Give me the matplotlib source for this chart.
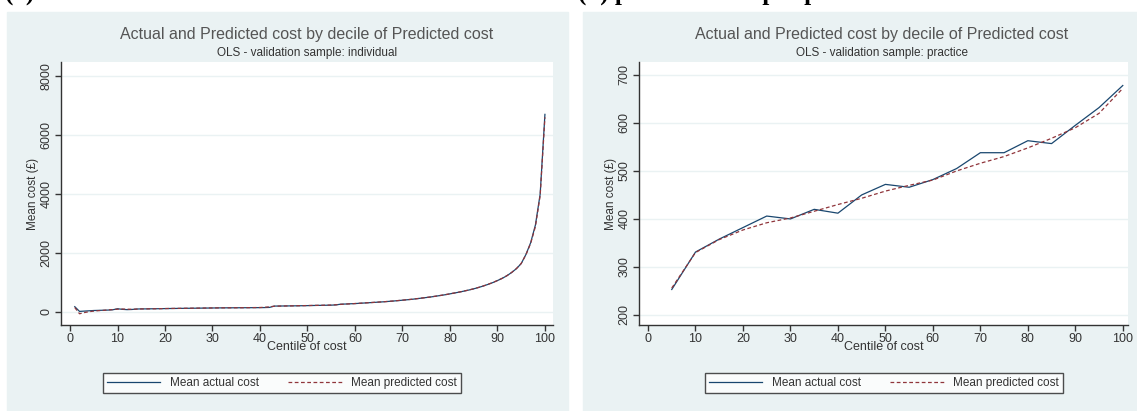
import matplotlib.pyplot as plt
from matplotlib.patches import Rectangle
from matplotlib.lines import Line2D

# panel (a): centiles of cost, individual validation sample
centiles = list(range(1, 101))
actual_ind = [180, 20, 30, 40, 50, 55, 60, 65, 75, 110,
              90, 80, 85, 100, 105, 105, 108, 110, 112, 115,
              118, 120, 122, 124, 126, 128, 130, 132, 134, 136,
              138, 140, 141, 142, 143, 144, 145, 146, 147, 148,
              150, 155, 200, 202, 204, 206, 208, 210, 213, 216,
              220, 223, 226, 229, 232, 240, 265, 270, 278, 285,
              295, 305, 315, 325, 335, 345, 358, 370, 385, 400,
              415, 430, 450, 470, 490, 510, 535, 560, 585, 615,
              645, 675, 710, 745, 785, 830, 880, 935, 995, 1065,
              1140, 1230, 1340, 1470, 1640, 1950, 2350, 2950, 4000, 6700]
pred_ind = [150, -60, -20, 10, 30, 45, 55, 70, 80, 95,
            100, 95, 90, 98, 104, 106, 108, 110, 113, 116,
            119, 121, 123, 125, 127, 129, 131, 133, 135, 137,
            139, 141, 142, 143, 144, 145, 146, 148, 150, 152,
            160, 175, 195, 200, 203, 206, 209, 212, 215, 218,
            222, 225, 228, 231, 235, 245, 258, 268, 277, 286,
            296, 306, 316, 326, 336, 347, 359, 372, 386, 401,
            416, 432, 451, 471, 491, 512, 536, 561, 587, 616,
            646, 677, 711, 747, 787, 832, 881, 937, 997, 1067,
            1142, 1232, 1342, 1472, 1645, 1940, 2330, 2900, 3950, 6600]

# panel (b): practice sample
groups = [5, 10, 15, 20, 25, 30, 35, 40, 45, 50,
          55, 60, 65, 70, 75, 80, 85, 90, 95, 100]
actual_prac = [253, 331, 358, 382, 406, 400, 420, 412, 450, 472,
               466, 482, 505, 538, 538, 563, 557, 595, 632, 678]
pred_prac = [256, 330, 357, 377, 392, 402, 416, 430, 443, 458,
             470, 481, 500, 516, 530, 548, 568, 590, 620, 672]

W, H = 1137, 411
BG = '#eaf2f3'
C_ACT = '#1a476f'
C_PRED = '#90353b'

plt.rcParams['font.family'] = ['Liberation Sans', 'DejaVu Sans']
fig = plt.figure(figsize=(W / 100, H / 100), dpi=100)


def px_box(x0, y0, x1, y1):
    return [x0 / W, 1 - y1 / H, (x1 - x0) / W, (y1 - y0) / H]


# grey-blue panel backgrounds
for x0, x1 in [(7, 568), (583, 1137)]:
    fig.patches.append(Rectangle((x0 / W, 0), (x1 - x0) / W, 1 - 12 / H,
                                 transform=fig.transFigure, color=BG, zorder=-10))

# caption lines, cut off at the top edge
fig.text(5 / W, 1 + 0.5 / H, '(a) individual level', fontsize=18, fontweight='bold',
         family='Liberation Serif', va='baseline', ha='left')
fig.text(578 / W, 1 + 0.5 / H, '(b) practice level per practice', fontsize=18,
         fontweight='bold', family='Liberation Serif', va='baseline', ha='left')

panels = [
    dict(box=(61, 62, 553, 325), x=centiles, a=actual_ind, p=pred_ind,
         xlim=(-1.9, 101.7), ylim=(-441, 8475), yt=[0, 2000, 4000, 6000, 8000],
         sub='OLS - validation sample: individual', cx=307, lx=282),
    dict(box=(639, 62, 1128, 325), x=groups, a=actual_prac, p=pred_prac,
         xlim=(-1.9, 101.1), ylim=(179, 727), yt=[200, 300, 400, 500, 600, 700],
         sub='OLS - validation sample: practice', cx=882, lx=884),
]

for pn in panels:
    ax = fig.add_axes(px_box(*pn['box']))
    ax.set_facecolor('white')
    ax.plot(pn['x'], pn['a'], color=C_ACT, lw=0.9, label='Mean actual cost')
    ax.plot(pn['x'], pn['p'], color=C_PRED, lw=0.9, dashes=(3, 2),
            label='Mean predicted cost')
    ax.set_xlim(*pn['xlim'])
    ax.set_ylim(*pn['ylim'])
    ax.set_xticks(range(0, 101, 10))
    ax.set_yticks(pn['yt'])
    ax.set_yticklabels([str(v) for v in pn['yt']], rotation=90, va='center')
    ax.grid(axis='y', color=BG, lw=1)
    ax.set_axisbelow(True)
    for s in ['top', 'right']:
        ax.spines[s].set_visible(False)
    for s in ['left', 'bottom']:
        ax.spines[s].set_color('#333333')
        ax.spines[s].set_linewidth(1)
    ax.tick_params(length=4, width=1, color='#333333', labelsize=9,
                   labelcolor='#333333', pad=2)
    ax.set_xlabel('Centile of cost', fontsize=9, color='#333333', labelpad=-3)
    ax.set_ylabel('Mean cost (£)', fontsize=8.5, color='#333333', labelpad=1)

    fig.text(pn['cx'] / W, 1 - 34 / H,
             'Actual and Predicted cost by decile of Predicted cost',
             ha='center', va='center', fontsize=11.5, color='#555555')
    fig.text(pn['cx'] / W, 1 - 53 / H, pn['sub'],
             ha='center', va='center', fontsize=8.5, color='#333333')

    handles = [Line2D([], [], color=C_ACT, lw=0.9),
               Line2D([], [], color=C_PRED, lw=0.9, dashes=(3, 2))]
    leg = fig.legend(handles, ['Mean actual cost', 'Mean predicted cost'],
                     loc='center', bbox_to_anchor=(pn['lx'] / W, 1 - 383 / H),
                     ncol=2, fontsize=8.5, frameon=True, fancybox=False,
                     edgecolor='#222222', handlelength=4.5, columnspacing=2.5,
                     borderpad=0.35, labelcolor='#333333')
    leg.get_frame().set_linewidth(1)

fig.savefig('out.png', dpi=100)
